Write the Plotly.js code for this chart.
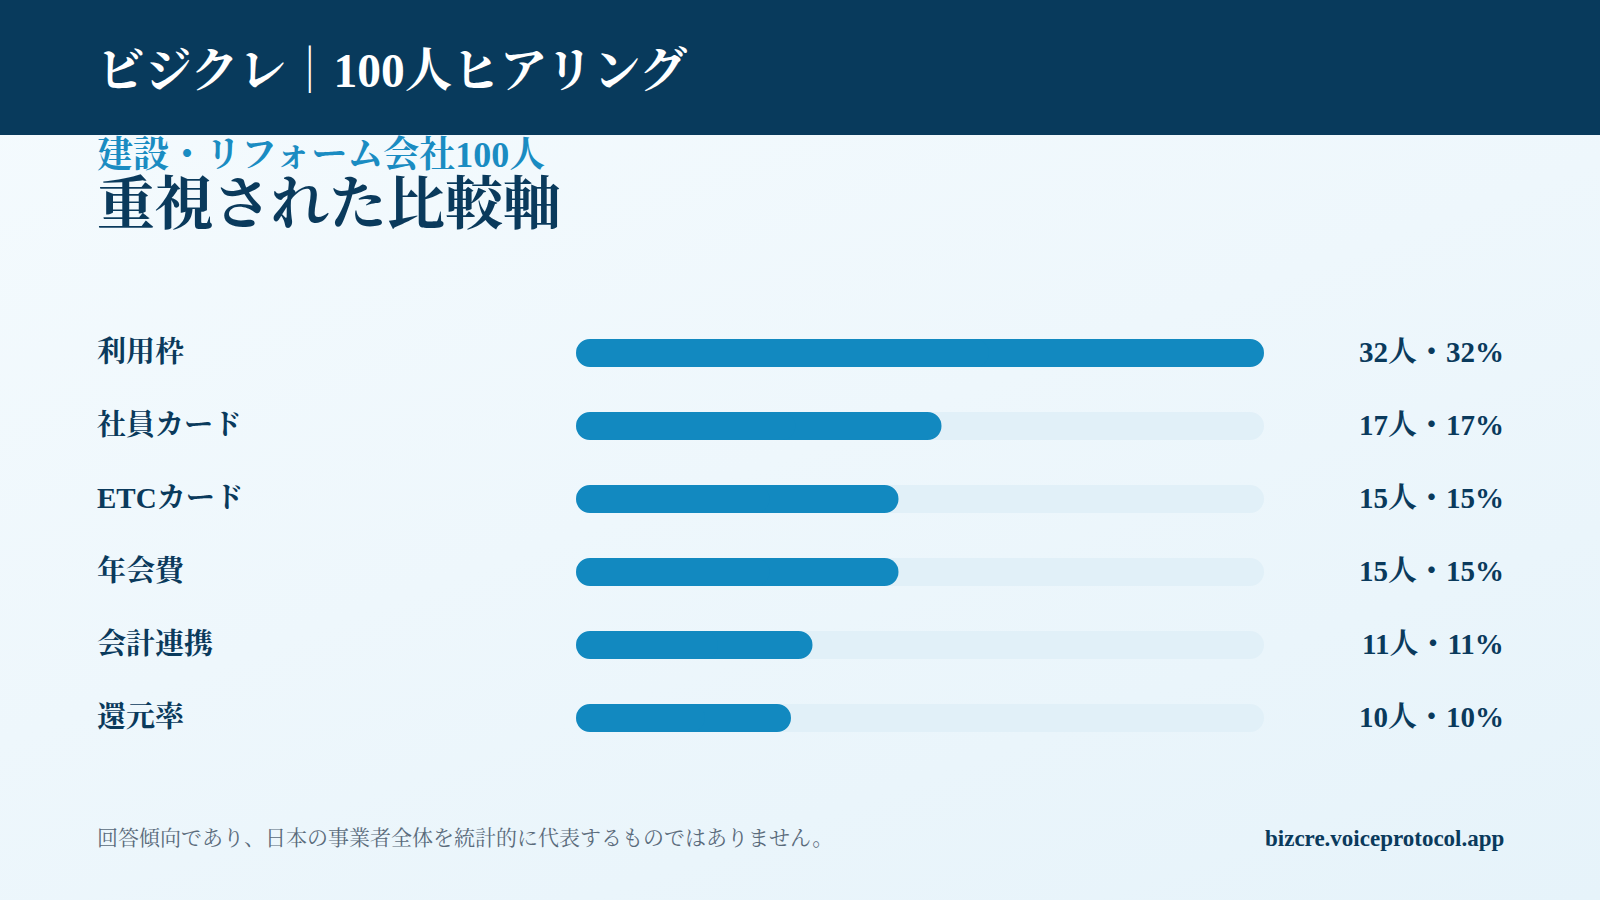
<!DOCTYPE html>
<html>
<head>
<meta charset="utf-8">
<script src="https://cdn.plot.ly/plotly-3.0.1.min.js"></script>
<style>
  html, body { margin: 0; padding: 0; width: 1600px; height: 900px; overflow: hidden; }
  body { background: linear-gradient(160deg, #f5fbfe 0%, #eef7fc 50%, #e6f3fa 100%); }
  #chart { width: 1600px; height: 900px; }
</style>
</head>
<body>
<div id="chart"></div>
<script>
// ---- data ----
const categories = ["利用枠", "社員カード", "ETCカード", "年会費", "会計連携", "還元率"];
const counts = [32, 17, 15, 15, 11, 10];
const percents = [32, 17, 15, 15, 11, 10];
const headerTitle = "ビジクレ｜100人ヒアリング";
const subTitle = "建設・リフォーム会社100人";
const mainTitle = "重視された比較軸";
const footnote = "回答傾向であり、日本の事業者全体を統計的に代表するものではありません。";
const siteUrl = "bizcre.voiceprotocol.app";

// ---- styling ----
const FONT = "'Liberation Serif', 'Noto Serif CJK JP', 'Noto Sans CJK JP', serif";
const NAVY = "#0a3a5c";
const BLUE = "#1289c0";
const TRACK = "#e1f0f8";
const W = 1600, H = 900;
const maxVal = Math.max(...counts);
const ROW = 73, BAR_PX = 28, TOP = 316.5;
const barW = BAR_PX / ROW;
const LEFT = 95, RIGHT = 1506;

// bars split in two halves (each rounded at its outer end) so both ends are rounded
function halves(vals, color) {
  return [
    { type: "bar", orientation: "h", y: categories,
      x: vals.map(v => v * 0.6), base: vals.map(v => v * 0.4),
      width: barW, marker: { color: color, cornerradius: 14, line: { width: 0 } },
      hoverinfo: "skip", showlegend: false },
    { type: "bar", orientation: "h", y: categories,
      x: vals.map(v => -v * 0.6), base: vals.map(v => v * 0.6),
      width: barW, marker: { color: color, cornerradius: 14, line: { width: 0 } },
      hoverinfo: "skip", showlegend: false }
  ];
}
const traces = [...halves(categories.map(() => maxVal), TRACK), ...halves(counts, BLUE)];

const annotations = [];
categories.forEach((c, i) => {
  annotations.push({
    xref: "paper", yref: "y", x: LEFT / W, y: i, yshift: 1, xanchor: "left", yanchor: "middle",
    text: c, showarrow: false,
    font: { family: FONT, size: 29, color: NAVY, weight: 700 }
  });
  annotations.push({
    xref: "paper", yref: "y", x: RIGHT / W, y: i, yshift: 1, xanchor: "right", yanchor: "middle",
    text: counts[i] + "人・" + percents[i] + "%", showarrow: false,
    font: { family: FONT, size: 29, color: NAVY, weight: 700 }
  });
});
annotations.push(
  { xref: "paper", yref: "paper", x: LEFT / W, y: 1 - 71 / H, xanchor: "left", yanchor: "middle",
    text: headerTitle, showarrow: false, font: { family: FONT, size: 47.5, color: "#ffffff", weight: 700 } },
  { xref: "paper", yref: "paper", x: LEFT / W, y: 1 - 155 / H, xanchor: "left", yanchor: "middle",
    text: subTitle, showarrow: false, font: { family: FONT, size: 36, color: "#1a8cc2", weight: 700 } },
  { xref: "paper", yref: "paper", x: LEFT / W, y: 1 - 205 / H, xanchor: "left", yanchor: "middle",
    text: mainTitle, showarrow: false, font: { family: FONT, size: 58, color: NAVY, weight: 700 } },
  { xref: "paper", yref: "paper", x: LEFT / W, y: 1 - 838 / H, xanchor: "left", yanchor: "middle",
    text: footnote, showarrow: false, font: { family: FONT, size: 21, color: "#5a6b7b" } },
  { xref: "paper", yref: "paper", x: RIGHT / W, y: 1 - 838 / H, xanchor: "right", yanchor: "middle",
    text: siteUrl, showarrow: false, font: { family: FONT, size: 23, color: NAVY, weight: 700 } }
);

const layout = {
  width: W, height: H,
  margin: { l: 0, r: 0, t: 0, b: 0 },
  paper_bgcolor: "rgba(0,0,0,0)", plot_bgcolor: "rgba(0,0,0,0)",
  barmode: "overlay",
  xaxis: { domain: [576 / W, 1264 / W], range: [0, maxVal], visible: false, fixedrange: true },
  yaxis: { domain: [1 - (TOP + ROW * categories.length) / H, 1 - TOP / H], autorange: "reversed", type: "category",
           visible: false, fixedrange: true },
  shapes: [
    { type: "rect", xref: "paper", yref: "paper", x0: 0, x1: 1, y0: 1 - 135 / H, y1: 1,
      fillcolor: "#083a5c", line: { width: 0 }, layer: "below" }
  ],
  annotations: annotations,
  font: { family: FONT },
  hovermode: false,
  dragmode: false
};

Plotly.newPlot("chart", traces, layout, { displayModeBar: false });
</script>
</body>
</html>
